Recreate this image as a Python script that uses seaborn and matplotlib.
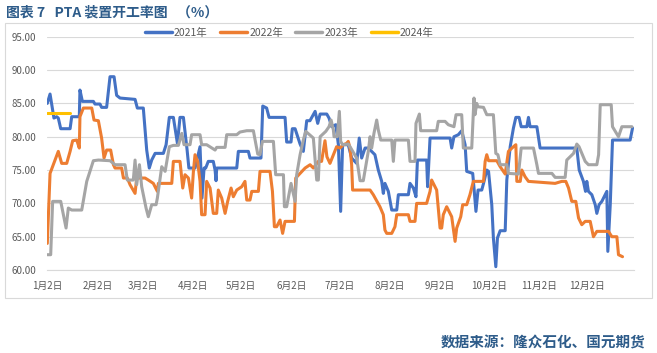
import matplotlib
matplotlib.use("Agg")
import matplotlib.pyplot as plt
from matplotlib.lines import Line2D
from matplotlib.patches import Rectangle
import numpy as np
import pandas as pd
import seaborn as sns

# ---------------- data (x = days after Jan 2, y = PTA operating rate %) ----------------
days_2021 = [0, 1.7, 4.1, 5.8, 6.8, 8.3, 14.1, 15.1, 19.8, 20.2, 21.7, 28.5, 29.5, 32.6, 33.6, 36.7,
             38.8, 41.3, 42.9, 45, 54.3, 55.7, 59.4, 61.5, 63.1, 64.6, 66.7, 71.8, 73.5, 75.5, 78,
             80.5, 82.1, 84.2, 86.5, 87.6, 91.4, 94.5, 95.7, 97.0, 98.0, 99.6, 102.7, 103.8, 104.4,
             104.8, 117.2, 118.2, 124.4, 125.4, 131.6, 132.2, 133.3, 135.7, 137.2, 147.1, 148.1,
             150.8, 151.6, 153.3, 156.4, 158.4, 160.5, 162.5, 164.6, 165.7, 167.3, 168.8, 172.9,
             174.3, 176, 178.5, 180.1, 181.5, 182.7, 186.2, 188.3, 191.4, 193, 194.5, 196.6, 198.6,
             202.7, 204.8, 206.9, 207.9, 208.9, 211, 213.1, 216.2, 217.2, 223.4, 224.4, 226.5,
             228.1, 229, 234.7, 235.3, 236.8, 249.2, 250.2, 251.6, 254.3, 256.4, 258.5, 259.5,
             263.2, 264, 265.2, 266.5, 268.8, 269.9, 271.9, 273, 275, 276, 277.5, 278.5, 280.2,
             283.3, 284.3, 286.4, 288.4, 289.9, 291.9, 293.2, 296.7, 297.7, 298.7, 302.9, 304.9,
             327.6, 329.1, 331.7, 333.0, 333.8, 334.8, 336.9, 339, 340, 341.4, 343.1, 346.2, 346.8,
             348.3, 349.7, 360.6, 362.1]
rate_2021 = [85.0, 86.4, 82.8, 83.0, 82.8, 81.2, 81.2, 83.0, 83.0, 87.0, 85.3, 85.3, 84.9, 84.9, 84.4, 84.4,
             89.0, 89.0, 86.2, 85.8, 85.6, 84.3, 84.3, 78.0, 75.3, 76.5, 77.5, 77.5, 78.8, 82.9, 82.9,
             79.0, 82.9, 82.9, 78.0, 75.3, 75.3, 78.5, 70.8, 75.3, 75.3, 76.3, 76.3, 75.0, 73.4,
             75.3, 75.3, 77.8, 77.8, 76.8, 76.8, 76.8, 84.6, 84.3, 82.9, 82.9, 79.2,
             79.2, 81.2, 81.2, 78.9, 77.8, 82.4, 82.4, 83.3, 83.8, 82.0, 83.4, 83.4,
             82.8, 81.5, 81.8, 78.8, 68.8, 78.8, 78.8, 76.8, 76.0, 79.8, 76.8, 78.3, 78.3,
             77.3, 75.0, 73.3, 71.5, 73.0, 71.8, 69.0, 69.0, 71.3, 71.3, 73.0, 72.3,
             71.0, 76.5, 76.5, 72.5, 79.8, 79.8, 78.3, 80.0, 80.3, 80.9, 78.8, 74.8,
             74.5, 72.3, 68.8, 72.0, 72.0, 73.0, 75.0, 74.8, 69.8, 64.8, 60.5, 64.8, 65.9,
             65.9, 73.5, 78.5, 81.3, 82.9, 82.9, 81.5, 81.5, 82.9, 81.5, 81.5, 78.3,
             78.3, 75.0, 73.3, 71.8, 73.3, 71.8, 71.3, 69.8, 68.5, 69.8, 70.3, 71.8, 62.8,
             69.8, 79.5, 79.5, 81.3]

days_2022 = [0, 1.7, 3.7, 6.8, 8.9, 12, 14.1, 15.7, 18.2, 19.8, 20.2, 22.3, 27.5, 28.9, 31.6, 33.6, 35.1,
             36.7, 39.2, 40.9, 41.9, 46, 47.1, 49.5, 51.2, 54.3, 55.3, 60.5, 62.5, 65.6, 68.1, 68.7,
             77, 78, 82.1, 83.8, 85.2, 87.3, 89.3, 90.4, 91.4, 93, 94.5, 95.5, 97.6, 98.6, 100.7,
             102.7, 104.8, 105.8, 107.9, 110, 111.6, 113.7, 115.1, 117.2, 120.3, 122.3, 123.4,
             125.4, 126.5, 130.6, 131.6, 137.8, 139.3, 140.5, 141.9, 144, 145.6, 147.1, 152.9,
             153.7, 156.4, 159.5, 162.6, 164.6, 167.7, 169.7, 171.8, 173, 174.9, 177, 179, 181,
             183.2, 185.2, 186.2, 187.3, 188.3, 188.9, 199.7, 201.7, 205.8, 207.9, 208.9, 210,
             213.1, 215.1, 216.2, 223.4, 224.4, 227.5, 228.5, 234.7, 236.8, 237.8, 240.9, 243,
             244, 245, 247.1, 250.2, 252.3, 253.3, 255.8, 257, 259.5, 261.5, 263.6, 269.9, 270.9,
             271.9, 273, 278.1, 280.2, 283.3, 285.3, 288.4, 289.9, 290.5, 292.6, 293.6, 295.6,
             297.7, 314.2, 318.3, 320.8, 322.5, 324.5, 327, 328.7, 330.7, 332.8, 335.9, 337.9,
             340, 344.1, 347.2, 349.3, 352.4, 353.4, 355.9]
rate_2022 = [64.0, 74.5, 75.8, 77.8, 76.0, 76.0, 77.8, 79.4, 79.5, 78.3, 83.0, 84.3, 84.3, 82.5, 82.4, 79.8, 76.8,
             78.0, 78.0, 75.8, 75.3, 75.3, 73.8, 73.8, 72.8, 71.5, 73.8, 73.8, 73.5, 73.0, 71.8, 73.0,
             73.0, 76.3, 76.3, 72.3, 74.3, 73.8, 70.8, 74.8, 77.3, 76.3, 73.3, 68.3, 68.3, 73.3, 72.3,
             68.5, 68.5, 72.0, 70.8, 68.5, 70.3, 72.3, 71.0, 72.0, 72.5, 73.3, 70.5,
             70.5, 71.8, 71.8, 74.8, 74.8, 71.8, 66.5, 66.5, 67.5, 65.5, 67.3, 67.3,
             73.8, 74.5, 75.3, 75.8, 75.3, 76.3, 76.3, 79.4, 77.0, 76.0, 77.3, 78.5, 78.3,
             78.8, 79.0, 79.3, 78.3, 75.8, 72.0, 72.0, 71.3, 69.5, 68.3, 66.0, 65.5,
             65.5, 66.5, 68.3, 68.3, 67.3, 67.3, 70.0, 70.0, 71.8, 73.5, 72.0, 66.3,
             66.3, 68.3, 69.5, 68.0, 64.3, 66.3, 68.0, 69.8, 69.8, 71.3, 73.3, 73.3, 76.3,
             77.3, 76.4, 76.4, 75.5, 74.4, 77.8, 78.5, 78.8, 73.3, 73.3, 75.0, 74.0,
             73.3, 73.0, 73.3, 73.3, 72.3, 70.3, 70.3, 67.8, 66.8, 67.3, 67.3, 65.0,
             65.8, 65.8, 65.8, 65.0, 65.0, 62.3, 62.0]

days_2023 = [0, 2.1, 3.3, 8.3, 11.6, 13, 15.1, 21.3, 24.4, 26.4, 28.5, 31.6, 38.8, 41.9, 48.1, 49.5, 53.2,
             54.3, 55.3, 57, 58.4, 61.1, 62.5, 64.6, 67.3, 68.1, 70.8, 72.9, 75.5, 78, 81.1, 83.2,
             84.6, 88.3, 89.3, 94.5, 95.5, 98.6, 103.8, 104.8, 110, 111, 117.2, 119.2, 123.4, 127.5,
             130.2, 131.6, 133.1, 139.9, 141.3, 146.1, 146.7, 148.1, 150.8, 153.3, 154.3, 156.4,
             158.4, 159.9, 164.6, 166.7, 167.7, 168.8, 172.3, 174.3, 175.6, 177, 177.4, 179.4,
             180.7, 181.5, 182.7, 186.2, 187.3, 191.4, 193.5, 195.5, 197.2, 198.6, 199.7, 200.7,
             202.1, 203.8, 204.8, 206.3, 213.1, 214.1, 215.1, 223.4, 224.4, 227.5, 228.1, 230.2,
             231, 240.9, 241.9, 246.1, 248.1, 251.6, 252.9, 256.4, 257.4, 262.6, 264, 264.6, 265.7,
             266.3, 269.9, 271.9, 276, 277.5, 278.8, 280.2, 284.3, 285.3, 291.5, 293.2, 300.8,
             302.9, 303.9, 312.2, 314.2, 320.4, 321.4, 325.6, 327.6, 329, 332.8, 334.8, 340,
             341.1, 342.1, 348.9, 349.7, 353.4, 355.5, 361.7]
rate_2023 = [62.3, 62.3, 70.3, 70.3, 66.3, 69.3, 69.0, 69.0, 73.3, 74.8, 76.4, 76.5, 76.4, 75.8, 75.8, 73.5, 73.5,
             76.5, 72.8, 75.8, 72.5, 69.3, 68.0, 69.8, 69.8, 70.8, 75.5, 74.8, 78.5, 78.7, 78.7, 80.5,
             78.8, 78.8, 80.3, 80.3, 78.8, 78.8, 78.0, 78.4, 78.4, 80.3, 80.3, 80.7, 80.9, 80.9,
             77.4, 77.3, 79.3, 79.3, 74.3, 74.3, 69.5, 69.5, 73.0, 70.3, 74.3, 77.3,
             79.5, 80.8, 79.8, 73.5, 73.5, 80.0, 80.8, 81.5, 82.5, 81.0, 80.0, 80.0,
             83.8, 79.3, 78.8, 78.9, 78.5, 76.8, 73.4, 73.4, 75.8, 77.8, 80.0, 78.3,
             80.5, 82.5, 81.0, 79.5, 79.5, 76.3, 79.5, 79.5, 76.3, 76.3, 82.0, 83.4,
             80.9, 80.9, 82.3, 82.3, 81.8, 81.5, 83.3, 83.3, 78.3, 78.3, 85.8, 83.3, 85.0,
             84.5, 84.4, 83.3, 83.3, 77.5, 77.3, 75.8, 75.8, 74.5, 74.4, 78.3, 78.3,
             75.8, 74.5, 74.5, 73.9, 73.9, 76.5, 77.5, 78.9, 78.5, 76.3, 75.8, 75.8,
             77.3, 84.8, 84.8, 81.5, 80.0, 81.5, 81.5]

days_2024 = [0, 3, 7, 10, 14]
rate_2024 = [83.5, 83.5, 83.5, 83.5, 83.5]

years = ['2021年', '2022年', '2023年', '2024年']
colors = ['#4472C4', '#ED7D31', '#A5A5A5', '#FFC000']
tick_days = [0, 31, 59, 90, 120, 151, 181, 212, 243, 273, 304, 334]
tick_labels = ['1月2日', '2月2日', '3月2日', '4月2日', '5月2日', '6月2日',
               '7月2日', '8月2日', '9月2日', '10月2日', '11月2日', '12月2日']

# build long table for seaborn
frames = []
for yr, d, r in zip(years, [days_2021, days_2022, days_2023, days_2024],
                    [rate_2021, rate_2022, rate_2023, rate_2024]):
    frames.append(pd.DataFrame({'day': d, 'rate': r, 'year': yr}))
df = pd.concat(frames, ignore_index=True)

# ---------------- plot ----------------
sns.set_style('white')
plt.rcParams['font.family'] = ['Noto Sans CJK SC', 'DejaVu Sans']

fig = plt.figure(figsize=(6.57, 3.53), dpi=100)
ax = fig.add_axes([0.072, 0.235, 0.893, 0.661])

sns.lineplot(data=df, x='day', y='rate', hue='year', hue_order=years,
             palette=dict(zip(years, colors)), estimator=None, sort=False,
             linewidth=2.2, legend=False, ax=ax)

ax.set_xlim(0, 363)
ax.set_ylim(60, 95)
ax.set_yticks(np.arange(60, 96, 5))
ax.set_yticklabels(['%.2f' % v for v in np.arange(60, 96, 5)])
ax.set_xticks(tick_days)
ax.set_xticklabels(tick_labels)
ax.set_xlabel('')
ax.set_ylabel('')
ax.grid(axis='y', color='#D9D9D9', linewidth=0.8)
ax.set_axisbelow(True)
for side in ['left', 'right', 'top']:
    ax.spines[side].set_visible(False)
ax.spines['bottom'].set_color('#D9D9D9')
ax.tick_params(axis='y', length=0, pad=8, labelsize=7, labelcolor='#595959')
ax.tick_params(axis='x', length=4, width=0.8, color='#D9D9D9', pad=4,
               labelsize=7, labelcolor='#595959')

handles = [Line2D([0], [0], color=c, linewidth=2.5) for c in colors]
ax.legend(handles, years, loc='center', bbox_to_anchor=(0.44, 0.907),
          bbox_transform=fig.transFigure, ncol=4, frameon=False, fontsize=7.5,
          handlelength=2.6, handletextpad=0.2, columnspacing=1.2, labelcolor='#595959')

# outer chart frame, title and source note
fig.patches.append(Rectangle((0.0076, 0.156), 0.9848, 0.779, transform=fig.transFigure,
                             fill=False, edgecolor='#D9D9D9', linewidth=0.8))
fig.text(0.009, 0.966, '图表 7   PTA 装置开工率图   （%）', fontsize=10, fontweight='bold',
         color='#2E5C8A', ha='left', va='center')
fig.text(0.982, 0.03, '数据来源：隆众石化、国元期货', fontsize=10.5, fontweight='bold',
         color='#2E5C8A', ha='right', va='center')

fig.savefig('out.png', dpi=100)
